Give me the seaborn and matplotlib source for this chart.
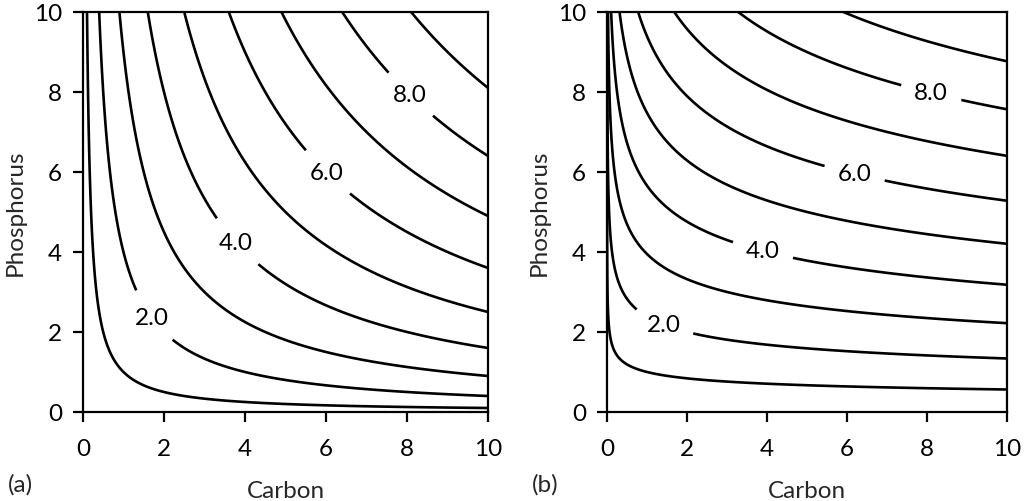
import numpy as np
import pandas as pd
import matplotlib
matplotlib.use("Agg")
import matplotlib.pyplot as plt
import seaborn as sns

# Contour levels of the response surface and the labelled ones
levels = [1, 2, 3, 4, 5, 6, 7, 8, 9]
labelled_levels = [2, 4, 6, 8]

# Carbon exponent of the Cobb-Douglas surface
panel_names = ["(a)", "(b)"]
carbon_exponent = [0.5, 0.2]

# Where the inline labels sit (Carbon, Phosphorus)
label_pos_a = [(1.6, 2.3), (3.8, 4.25), (6.0, 5.95), (8.1, 7.95)]
label_pos_b = [(1.4, 2.15), (3.9, 4.05), (6.2, 6.0), (8.1, 7.95)]

ticks = [0, 2, 4, 6, 8, 10]

sns.set_style("ticks")
plt.rcParams["font.family"] = ["Lato", "DejaVu Sans"]

# fine grid, very dense near Carbon = 0 where the curves bunch up
carbon = np.unique(np.concatenate([np.geomspace(1e-7, 0.2, 600), np.linspace(0.0, 10, 1200)]))
phosphorus = np.linspace(0.0, 10, 1200)
C, P = np.meshgrid(carbon, phosphorus)

fig = plt.figure(figsize=(10.28, 5.02), dpi=100)
axes_rects = [[0.0807, 0.1773, 0.394, 0.797], [0.5905, 0.1773, 0.389, 0.797]]

for name, a, pos, rect, tx in zip(panel_names, carbon_exponent,
                                   [label_pos_a, label_pos_b], axes_rects, [0.008, 0.517]):
    ax = fig.add_axes(rect)
    Z = C ** a * P ** (1 - a)
    plain = [lvl for lvl in levels if lvl not in labelled_levels]
    ax.contour(C, P, Z, levels=plain, colors="black", linewidths=1.9)
    cs = ax.contour(C, P, Z, levels=labelled_levels, colors="black", linewidths=1.9)
    texts = ax.clabel(cs, manual=pos, inline=True, fmt="%.1f",
                      fontsize=17.5, inline_spacing=14)
    for t in texts:
        t.set_rotation(0)
    ax.set_xlim(0, 10)
    ax.set_ylim(0, 10)
    ax.set_xticks(ticks)
    ax.set_yticks(ticks)
    ax.set_xlabel("Carbon", fontsize=17.5, labelpad=15)
    ax.set_ylabel("Phosphorus", fontsize=17.5, labelpad=6)
    ax.tick_params(labelsize=17.5, length=7, width=1.6, direction="out", colors="black",
                   top=False, right=False)
    ax.tick_params(axis="x", pad=12)
    ax.tick_params(axis="y", pad=8)
    for sp in ax.spines.values():
        sp.set_visible(True)
        sp.set_linewidth(1.6)
        sp.set_color("black")
    fig.text(tx, 0.035, name, fontsize=17.5, ha="left", va="center")

fig.savefig("out.png", dpi=100)
